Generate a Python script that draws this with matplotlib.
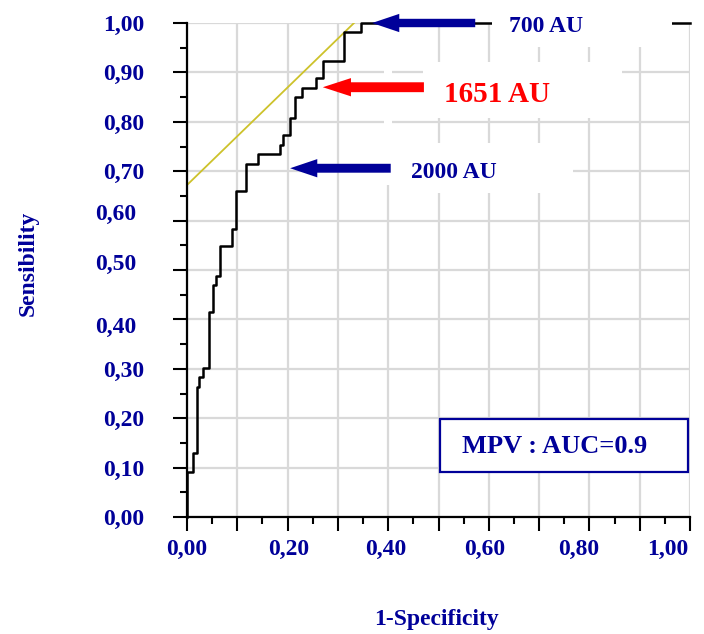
import matplotlib
matplotlib.use("Agg")
import matplotlib.pyplot as plt
import matplotlib.patches as patches
from matplotlib.ticker import MultipleLocator, FuncFormatter
from matplotlib.transforms import ScaledTranslation

# ROC curve of MPV
fpr = [0.000, 0.000, 0.012, 0.019, 0.024, 0.031, 0.043, 0.052, 0.057, 0.066, 0.089, 0.097,
       0.117, 0.142, 0.184, 0.191, 0.205, 0.215, 0.229, 0.256, 0.271, 0.312, 0.345, 1.000]
tpr = [0.000, 0.092, 0.130, 0.264, 0.284, 0.302, 0.414, 0.469, 0.488, 0.548, 0.584, 0.660,
       0.715, 0.734, 0.754, 0.773, 0.808, 0.851, 0.869, 0.888, 0.924, 0.981, 1.000, 1.000]

# tangent line (optimal cut-off)
tangent_x = [0.000, 0.332]
tangent_y = [0.672, 1.000]

# cut-off annotations
cutoff_labels = ["700 AU", "1651 AU", "2000 AU"]
cutoff_tip_x = [0.368, 0.270, 0.205]
cutoff_tip_y = [1.000, 0.870, 0.706]
cutoff_tail_x = [0.573, 0.471, 0.405]

auc_label = "MPV : AUC=0.9"

NAVY = "#000099"
RED = "#ff0000"
FONT = "Liberation Serif"

fig = plt.figure(figsize=(7.04, 6.34), dpi=100)
ax = fig.add_axes([187 / 704, 1 - 517 / 634, 503 / 704, 494 / 634])
ax.set_xlim(0, 1)
ax.set_ylim(0, 1)

# grid + axes look
ax.set_axisbelow(True)
ax.grid(True, which="major", color="#d9d9d9", lw=1.6)
for side in ["top", "right"]:
    ax.spines[side].set_visible(False)
for side in ["left", "bottom"]:
    ax.spines[side].set_linewidth(1.6)

ax.xaxis.set_major_locator(MultipleLocator(0.1))
ax.xaxis.set_minor_locator(MultipleLocator(0.05))
ax.yaxis.set_major_locator(MultipleLocator(0.1))
ax.yaxis.set_minor_locator(MultipleLocator(0.05))

def fmt_x(v, pos):
    k = int(round(v * 10))
    return f"{v:.2f}".replace(".", ",") if k % 2 == 0 else ""

ax.xaxis.set_major_formatter(FuncFormatter(fmt_x))
ax.yaxis.set_major_formatter(FuncFormatter(lambda v, p: f"{v:.2f}".replace(".", ",")))

ax.tick_params(which="major", length=10, width=1.5, direction="out")
ax.tick_params(which="minor", length=5, width=1.5, direction="out")
ax.tick_params(axis="x", which="major", pad=6)
ax.tick_params(axis="y", which="major", pad=21)
for lab in ax.get_xticklabels() + ax.get_yticklabels():
    lab.set_fontfamily(FONT)
    lab.set_fontweight("bold")
    lab.set_fontsize(17)
    lab.set_color(NAVY)

# small offsets of some tick labels, as in the original
fig.canvas.draw()
x_shift = {"0,20": 1, "0,40": -2, "0,60": -4, "0,80": -11, "1,00": -22}
for lab in ax.get_xticklabels():
    dx = x_shift.get(lab.get_text(), 0)
    if dx:
        lab.set_transform(lab.get_transform() + ScaledTranslation(dx / 100, 0, fig.dpi_scale_trans))
y_shift = {"0,60": (-8, 9), "0,50": (-8, 8.5), "0,40": (-8, -6)}
for lab in ax.get_yticklabels():
    d = y_shift.get(lab.get_text())
    if d:
        lab.set_transform(lab.get_transform() + ScaledTranslation(d[0] / 100, d[1] / 100, fig.dpi_scale_trans))

# curves
ax.plot(tangent_x, tangent_y, color="#cdc22b", lw=1.3, zorder=1.8)
ax.plot(fpr, tpr, drawstyle="steps-post", color="black", lw=1.8, zorder=2, clip_on=False)

# white patches hiding the grid behind the labels
masks = [(0.606, 0.951, 0.358, 0.07), (0.469, 0.808, 0.396, 0.113),
         (0.406, 0.656, 0.361, 0.101), (0.392, 0.672, 0.016, 0.33)]
for mx, my, mw, mh in masks:
    ax.add_patch(patches.Rectangle((mx, my), mw, mh, facecolor="white", edgecolor="none",
                                   zorder=2.5, clip_on=False))

# arrows + labels
arrow_style = [
    dict(color=NAVY, width=0.017, head_width=0.037, head_length=0.054),
    dict(color=RED, width=0.020, head_width=0.037, head_length=0.056),
    dict(color=NAVY, width=0.018, head_width=0.037, head_length=0.054),
]
text_pos = [(0.714, 0.982, 17, NAVY), (0.616, 0.840, 21, RED), (0.531, 0.686, 17, NAVY)]
for i, lab in enumerate(cutoff_labels):
    st = arrow_style[i]
    ax.add_patch(patches.FancyArrow(cutoff_tail_x[i], cutoff_tip_y[i],
                                    cutoff_tip_x[i] - cutoff_tail_x[i], 0,
                                    width=st["width"], head_width=st["head_width"],
                                    head_length=st["head_length"], length_includes_head=True,
                                    color=st["color"], lw=0, zorder=3, clip_on=False))
    tx, ty, fs, col = text_pos[i]
    ax.text(tx, ty, lab, ha="center", va="baseline", fontsize=fs, fontweight="bold",
            family=FONT, color=col, zorder=4)

# AUC box
ax.add_patch(patches.Rectangle((0.503, 0.091), 0.493, 0.107, facecolor="white",
                               edgecolor=NAVY, lw=1.6, zorder=3))
ax.text(0.730, 0.130, auc_label, ha="center", va="baseline", fontsize=19,
        fontweight="bold", family=FONT, color=NAVY, zorder=4)

# axis titles
fig.text(28 / 704, 1 - 263 / 634, "Sensibility", rotation=90, ha="center", va="center",
         fontsize=17, fontweight="bold", family=FONT, color=NAVY)
fig.text(437 / 704, 1 - 620 / 634, "1-Specificity", ha="center", va="center",
         fontsize=17, fontweight="bold", family=FONT, color=NAVY)

fig.savefig("out.png", dpi=100, facecolor="white")
